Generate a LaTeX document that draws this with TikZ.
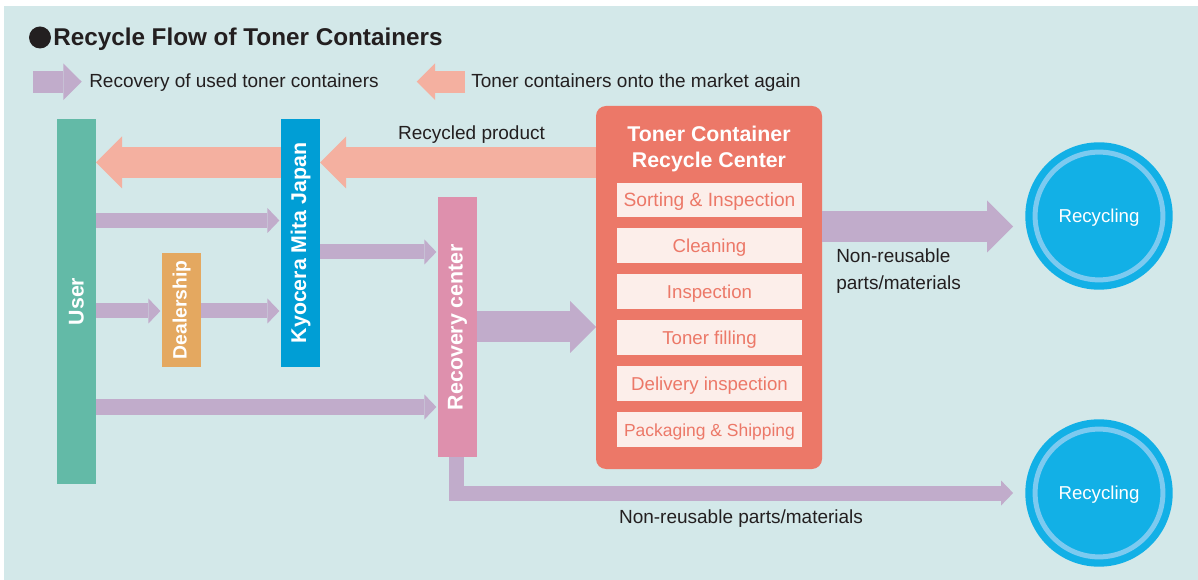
\documentclass[tikz,border=0pt]{standalone}
\usepackage{fontspec}
\setmainfont{Liberation Sans}
\usepackage{graphicx}
\usetikzlibrary{arrows.meta,calc}
\definecolor{bgc}{HTML}{D3E8E9}
\definecolor{ink}{HTML}{231F20}
\definecolor{usergreen}{HTML}{63BAA7}
\definecolor{kyoblue}{HTML}{009ED5}
\definecolor{dealorange}{HTML}{E4A860}
\definecolor{recpink}{HTML}{DE90AD}
\definecolor{purp}{HTML}{C1ACCB}
\definecolor{salm}{HTML}{F4B0A0}
\definecolor{centred}{HTML}{EC7868}
\definecolor{stagefill}{HTML}{FCEEEA}
\definecolor{cblue}{HTML}{12B0E6}
\definecolor{cring}{HTML}{7CCAF0}
\tikzset{
  vbox/.style={rectangle, inner sep=0pt, outer sep=0pt, minimum width=29.25pt, text=white, font=\bfseries\fontsize{16}{19}\selectfont},
  stagebox/.style={rectangle, fill=stagefill, inner sep=0pt, outer sep=0pt, minimum width=138.75pt, minimum height=25.9pt, text height=12pt, text depth=2pt, text=centred, font=\fontsize{14}{17}\selectfont},
  lbl/.style={text=ink, inner sep=0pt, font=\fontsize{14.25}{20.25}\selectfont},
  recyc/.style={circle, fill=cblue, draw=cring, line width=3.75pt, preaction={draw=cblue, line width=14.7pt}, minimum size=95.85pt, inner sep=0pt, outer sep=0pt, text height=12pt, text depth=2pt, text=white, font=\fontsize{14}{17}\selectfont},
  thinarrow/.style={draw=purp, line width=11.25pt, shorten >=1.2pt, -{Triangle[length=9pt,width=18.75pt,line width=0pt]}},
  fatpurple/.style={draw=purp, line width=23.25pt, -{Triangle[length=19.5pt,width=39pt,line width=0pt]}},
  fatsalmon/.style={draw=salm, line width=23.25pt, -{Triangle[length=19.5pt,width=39pt,line width=0pt]}},
  legpurple/.style={draw=purp, line width=16.3pt, -{Triangle[length=13.8pt,width=27.5pt,line width=0pt]}},
  legsalmon/.style={draw=salm, line width=16.3pt, -{Triangle[length=13.8pt,width=27.5pt,line width=0pt]}},
}
\begin{document}
\begin{tikzpicture}[x=0.75pt,y=-0.75pt]
\useasboundingbox (0,0) rectangle (1198,580);
\fill[bgc] (4,6) rectangle (1198,580);

% title
\fill[ink] (40,37.5) circle[radius=11];
\node[anchor=base west, inner sep=0pt, text=ink, font=\bfseries\fontsize{18.2}{21}\selectfont] (title) at (53,46) {Recycle Flow of Toner Containers};

% legend
\coordinate (lpA) at (33,81.7);
\coordinate (lpB) at (81.7,81.7);
\draw[legpurple] (lpA) -- (lpB);
\node[lbl, anchor=base west] (leg1) at (89,87.5) {Recovery of used toner containers};
\coordinate (lsA) at (465,81.7);
\coordinate (lsB) at (416.7,81.7);
\draw[legsalmon] (lsA) -- (lsB);
\node[lbl, anchor=base west] (leg2) at (471,87.5) {Toner containers onto the market again};

% vertical boxes
\node[vbox, fill=usergreen, minimum height=273.75pt] (user) at (76.5,301.5) {\rotatebox{90}{User}};
\node[vbox, fill=kyoblue, minimum height=186pt] (kyo) at (300.5,243) {\rotatebox{90}{Kyocera Mita Japan}};
\node[vbox, fill=dealorange, minimum height=85.5pt, font=\bfseries\fontsize{14.5}{17}\selectfont] (dealer) at (181.5,310) {\rotatebox{90}{Dealership}};
\node[vbox, fill=recpink, minimum height=195pt] (recov) at (457.5,327) {\rotatebox{90}{Recovery center}};

% recycle center
\node[rectangle, rounded corners=7.5pt, fill=centred, minimum width=169.5pt, minimum height=272.25pt, inner sep=0pt, outer sep=0pt] (center) at (709,287.5) {};
\node[text=white, align=center, font=\bfseries\fontsize{16}{19.5}\selectfont, inner sep=0pt] (ctitle) at (709,149) {Toner Container\\Recycle Center};
\node[stagebox, font=\fontsize{14.4}{17}\selectfont] (s1) at (709.5,200) {Sorting \& Inspection};
\node[stagebox] (s2) at (709.5,245.5) {Cleaning};
\node[stagebox] (s3) at (709.5,291.5) {Inspection};
\node[stagebox] (s4) at (709.5,337.5) {Toner filling};
\node[stagebox] (s5) at (709.5,383.5) {Delivery inspection};
\node[stagebox, font=\fontsize{13.1}{17}\selectfont] (s6) at (709.5,429.5) {Packaging \& Shipping};

% recycling circles
\node[recyc] (rec1) at (1099,216) {Recycling};
\node[recyc] (rec2) at (1099,493) {Recycling};

% arrows
\draw[fatsalmon] (center.west |- 0,162.5) -- (kyo.east |- 0,162.5);
\draw[fatsalmon] (kyo.west |- 0,162.5) -- (user.east |- 0,162.5);
\draw[thinarrow] (user.east |- 0,220.5) -- (kyo.west |- 0,220.5);
\draw[thinarrow] (kyo.east |- 0,252) -- (recov.west |- 0,252);
\draw[thinarrow] (user.east |- 0,311) -- (dealer.west |- 0,311);
\draw[thinarrow] (dealer.east |- 0,311) -- (kyo.west |- 0,311);
\draw[thinarrow] (user.east |- 0,407) -- (recov.west |- 0,407);
\draw[fatpurple] (recov.east |- 0,327) -- (center.west |- 0,327);
\draw[fatpurple, shorten >=16.5pt] (center.east |- 0,226.5) -- (rec1.west |- 0,226.5);
\draw[thinarrow, line join=miter, shorten >=16.5pt] ($(recov.south)+(-1.5,0)$) |- (rec2.west);

% labels
\node[lbl, anchor=base] (recyprod) at (471.5,140) {Recycled product};
\node[lbl, anchor=north west, align=left] (nrtop) at (836,248.3) {Non-reusable\\parts/materials};
\node[lbl, anchor=base] (nrbot) at (741,523.3) {Non-reusable parts/materials};
\end{tikzpicture}
\end{document}
